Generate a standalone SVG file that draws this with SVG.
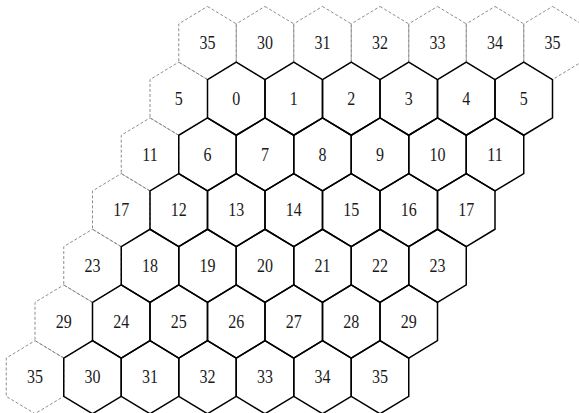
<svg xmlns="http://www.w3.org/2000/svg" xmlns:xlink="http://www.w3.org/1999/xlink" width="579" height="413" viewBox="0 0 579 413">
<style>
.bg{fill:#ffffff}
.dash{fill:none;stroke:#808080;stroke-width:0.9;stroke-dasharray:3,2}
.solid{fill:none;stroke:#000000;stroke-width:1.5;stroke-linejoin:miter}
.lbl{font-family:"Liberation Serif","Times New Roman",serif;font-size:16px;fill:#1a1a1a;text-anchor:middle}
</style>
<defs>
<path id="hex" d="M0,-36.55 L28.75,-19.15 L28.75,19.15 L0,36.55 L-28.75,19.15 L-28.75,-19.15 Z"/>
</defs>
<rect class="bg" x="0" y="0" width="579" height="413"/>
<g id="ghosts">
<g id="g-r0c0"><use href="#hex" x="207.5" y="43" class="dash"/><text class="lbl" transform="translate(207.5,43) scale(1,1.13)" y="5.4">35</text></g>
<g id="g-r0c1"><use href="#hex" x="265" y="43" class="dash"/><text class="lbl" transform="translate(265,43) scale(1,1.13)" y="5.4">30</text></g>
<g id="g-r0c2"><use href="#hex" x="322.5" y="43" class="dash"/><text class="lbl" transform="translate(322.5,43) scale(1,1.13)" y="5.4">31</text></g>
<g id="g-r0c3"><use href="#hex" x="380" y="43" class="dash"/><text class="lbl" transform="translate(380,43) scale(1,1.13)" y="5.4">32</text></g>
<g id="g-r0c4"><use href="#hex" x="437.5" y="43" class="dash"/><text class="lbl" transform="translate(437.5,43) scale(1,1.13)" y="5.4">33</text></g>
<g id="g-r0c5"><use href="#hex" x="495" y="43" class="dash"/><text class="lbl" transform="translate(495,43) scale(1,1.13)" y="5.4">34</text></g>
<g id="g-r0c6"><use href="#hex" x="552.5" y="43" class="dash"/><text class="lbl" transform="translate(552.5,43) scale(1,1.13)" y="5.4">35</text></g>
<g id="g-r1c0"><use href="#hex" x="178.75" y="98.7" class="dash"/><text class="lbl" transform="translate(178.75,98.7) scale(1,1.13)" y="5.4">5</text></g>
<g id="g-r2c0"><use href="#hex" x="150" y="154.4" class="dash"/><text class="lbl" transform="translate(150,154.4) scale(1,1.13)" y="5.4">11</text></g>
<g id="g-r3c0"><use href="#hex" x="121.25" y="210.1" class="dash"/><text class="lbl" transform="translate(121.25,210.1) scale(1,1.13)" y="5.4">17</text></g>
<g id="g-r4c0"><use href="#hex" x="92.5" y="265.8" class="dash"/><text class="lbl" transform="translate(92.5,265.8) scale(1,1.13)" y="5.4">23</text></g>
<g id="g-r5c0"><use href="#hex" x="63.75" y="321.5" class="dash"/><text class="lbl" transform="translate(63.75,321.5) scale(1,1.13)" y="5.4">29</text></g>
<g id="g-r6c0"><use href="#hex" x="35" y="377.2" class="dash"/><text class="lbl" transform="translate(35,377.2) scale(1,1.13)" y="5.4">35</text></g>
</g>
<g id="cells">
<g id="n0"><use href="#hex" x="236.25" y="98.7" class="solid"/><text class="lbl" transform="translate(236.25,98.7) scale(1,1.13)" y="5.4">0</text></g>
<g id="n1"><use href="#hex" x="293.75" y="98.7" class="solid"/><text class="lbl" transform="translate(293.75,98.7) scale(1,1.13)" y="5.4">1</text></g>
<g id="n2"><use href="#hex" x="351.25" y="98.7" class="solid"/><text class="lbl" transform="translate(351.25,98.7) scale(1,1.13)" y="5.4">2</text></g>
<g id="n3"><use href="#hex" x="408.75" y="98.7" class="solid"/><text class="lbl" transform="translate(408.75,98.7) scale(1,1.13)" y="5.4">3</text></g>
<g id="n4"><use href="#hex" x="466.25" y="98.7" class="solid"/><text class="lbl" transform="translate(466.25,98.7) scale(1,1.13)" y="5.4">4</text></g>
<g id="n5"><use href="#hex" x="523.75" y="98.7" class="solid"/><text class="lbl" transform="translate(523.75,98.7) scale(1,1.13)" y="5.4">5</text></g>
<g id="n6"><use href="#hex" x="207.5" y="154.4" class="solid"/><text class="lbl" transform="translate(207.5,154.4) scale(1,1.13)" y="5.4">6</text></g>
<g id="n7"><use href="#hex" x="265" y="154.4" class="solid"/><text class="lbl" transform="translate(265,154.4) scale(1,1.13)" y="5.4">7</text></g>
<g id="n8"><use href="#hex" x="322.5" y="154.4" class="solid"/><text class="lbl" transform="translate(322.5,154.4) scale(1,1.13)" y="5.4">8</text></g>
<g id="n9"><use href="#hex" x="380" y="154.4" class="solid"/><text class="lbl" transform="translate(380,154.4) scale(1,1.13)" y="5.4">9</text></g>
<g id="n10"><use href="#hex" x="437.5" y="154.4" class="solid"/><text class="lbl" transform="translate(437.5,154.4) scale(1,1.13)" y="5.4">10</text></g>
<g id="n11"><use href="#hex" x="495" y="154.4" class="solid"/><text class="lbl" transform="translate(495,154.4) scale(1,1.13)" y="5.4">11</text></g>
<g id="n12"><use href="#hex" x="178.75" y="210.1" class="solid"/><text class="lbl" transform="translate(178.75,210.1) scale(1,1.13)" y="5.4">12</text></g>
<g id="n13"><use href="#hex" x="236.25" y="210.1" class="solid"/><text class="lbl" transform="translate(236.25,210.1) scale(1,1.13)" y="5.4">13</text></g>
<g id="n14"><use href="#hex" x="293.75" y="210.1" class="solid"/><text class="lbl" transform="translate(293.75,210.1) scale(1,1.13)" y="5.4">14</text></g>
<g id="n15"><use href="#hex" x="351.25" y="210.1" class="solid"/><text class="lbl" transform="translate(351.25,210.1) scale(1,1.13)" y="5.4">15</text></g>
<g id="n16"><use href="#hex" x="408.75" y="210.1" class="solid"/><text class="lbl" transform="translate(408.75,210.1) scale(1,1.13)" y="5.4">16</text></g>
<g id="n17"><use href="#hex" x="466.25" y="210.1" class="solid"/><text class="lbl" transform="translate(466.25,210.1) scale(1,1.13)" y="5.4">17</text></g>
<g id="n18"><use href="#hex" x="150" y="265.8" class="solid"/><text class="lbl" transform="translate(150,265.8) scale(1,1.13)" y="5.4">18</text></g>
<g id="n19"><use href="#hex" x="207.5" y="265.8" class="solid"/><text class="lbl" transform="translate(207.5,265.8) scale(1,1.13)" y="5.4">19</text></g>
<g id="n20"><use href="#hex" x="265" y="265.8" class="solid"/><text class="lbl" transform="translate(265,265.8) scale(1,1.13)" y="5.4">20</text></g>
<g id="n21"><use href="#hex" x="322.5" y="265.8" class="solid"/><text class="lbl" transform="translate(322.5,265.8) scale(1,1.13)" y="5.4">21</text></g>
<g id="n22"><use href="#hex" x="380" y="265.8" class="solid"/><text class="lbl" transform="translate(380,265.8) scale(1,1.13)" y="5.4">22</text></g>
<g id="n23"><use href="#hex" x="437.5" y="265.8" class="solid"/><text class="lbl" transform="translate(437.5,265.8) scale(1,1.13)" y="5.4">23</text></g>
<g id="n24"><use href="#hex" x="121.25" y="321.5" class="solid"/><text class="lbl" transform="translate(121.25,321.5) scale(1,1.13)" y="5.4">24</text></g>
<g id="n25"><use href="#hex" x="178.75" y="321.5" class="solid"/><text class="lbl" transform="translate(178.75,321.5) scale(1,1.13)" y="5.4">25</text></g>
<g id="n26"><use href="#hex" x="236.25" y="321.5" class="solid"/><text class="lbl" transform="translate(236.25,321.5) scale(1,1.13)" y="5.4">26</text></g>
<g id="n27"><use href="#hex" x="293.75" y="321.5" class="solid"/><text class="lbl" transform="translate(293.75,321.5) scale(1,1.13)" y="5.4">27</text></g>
<g id="n28"><use href="#hex" x="351.25" y="321.5" class="solid"/><text class="lbl" transform="translate(351.25,321.5) scale(1,1.13)" y="5.4">28</text></g>
<g id="n29"><use href="#hex" x="408.75" y="321.5" class="solid"/><text class="lbl" transform="translate(408.75,321.5) scale(1,1.13)" y="5.4">29</text></g>
<g id="n30"><use href="#hex" x="92.5" y="377.2" class="solid"/><text class="lbl" transform="translate(92.5,377.2) scale(1,1.13)" y="5.4">30</text></g>
<g id="n31"><use href="#hex" x="150" y="377.2" class="solid"/><text class="lbl" transform="translate(150,377.2) scale(1,1.13)" y="5.4">31</text></g>
<g id="n32"><use href="#hex" x="207.5" y="377.2" class="solid"/><text class="lbl" transform="translate(207.5,377.2) scale(1,1.13)" y="5.4">32</text></g>
<g id="n33"><use href="#hex" x="265" y="377.2" class="solid"/><text class="lbl" transform="translate(265,377.2) scale(1,1.13)" y="5.4">33</text></g>
<g id="n34"><use href="#hex" x="322.5" y="377.2" class="solid"/><text class="lbl" transform="translate(322.5,377.2) scale(1,1.13)" y="5.4">34</text></g>
<g id="n35"><use href="#hex" x="380" y="377.2" class="solid"/><text class="lbl" transform="translate(380,377.2) scale(1,1.13)" y="5.4">35</text></g>
</g>
<g id="connectors"></g>
</svg>
